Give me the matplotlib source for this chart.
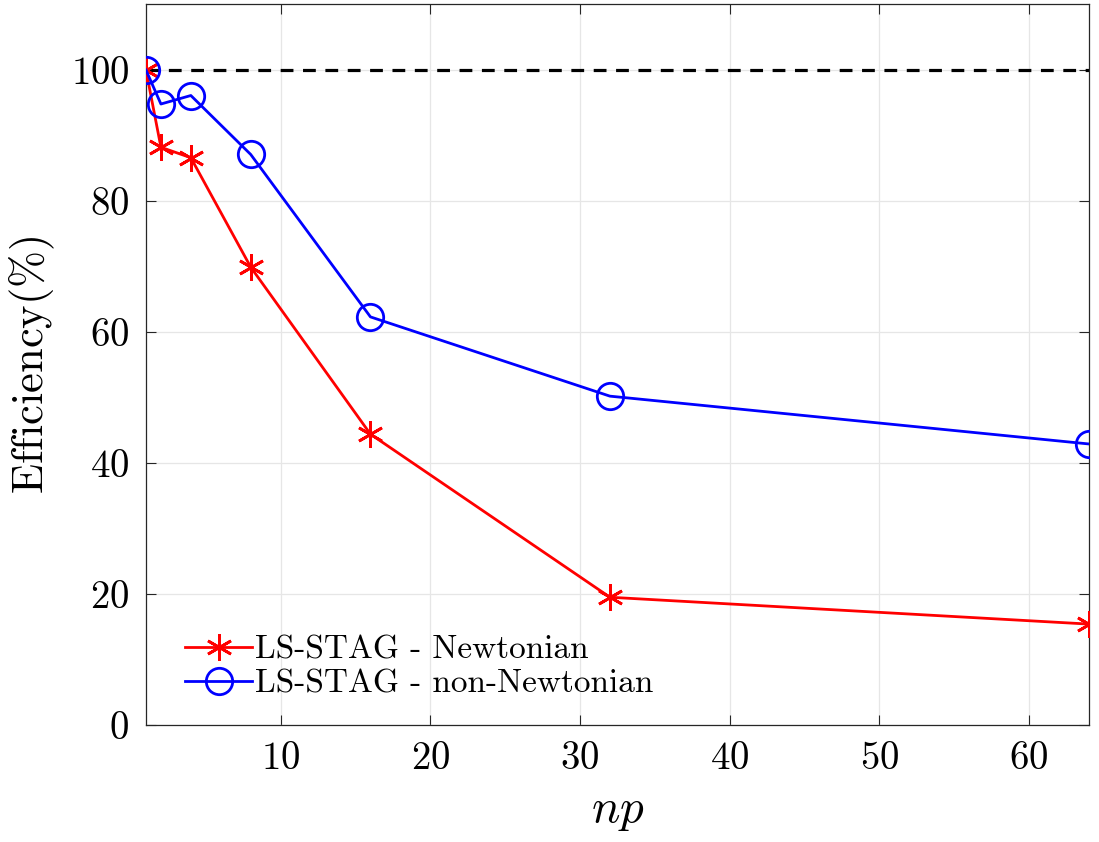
import matplotlib
matplotlib.use("Agg")
import matplotlib.pyplot as plt

np_procs = [1, 2, 4, 8, 16, 32, 64]
eff_newtonian = [100, 88.2, 86.6, 69.9, 44.4, 19.5, 15.4]
eff_non_newtonian = [100, 94.8, 96.1, 87.1, 62.3, 50.2, 42.9]
labels = ["LS-STAG - Newtonian", "LS-STAG - non-Newtonian"]
xticks = [10, 20, 30, 40, 50, 60]
yticks = [0, 20, 40, 60, 80, 100]

plt.rcParams['font.family'] = ['cmr10']
plt.rcParams['mathtext.fontset'] = 'cm'
plt.rcParams['axes.unicode_minus'] = False
plt.rcParams['axes.formatter.use_mathtext'] = True

fig = plt.figure(figsize=(10.99, 8.42), dpi=100)
ax = fig.add_axes([0.1328, 0.139, 0.858, 0.8557])

ax.axhline(100, color='black', lw=2.3, ls=(0, (4, 3)), zorder=1)
ast = (6, 2, 0)
ax.plot(np_procs, eff_newtonian, color='#ff0000', lw=2.0, marker=ast,
        markersize=19, markeredgewidth=2.0, label=labels[0], zorder=3)
ax.plot(np_procs, eff_non_newtonian, color='#0000ff', lw=2.0, marker='o',
        markersize=19, markerfacecolor='none', markeredgewidth=2.0,
        label=labels[1], zorder=3)

ax.set_xlim(1, 64)
ax.set_ylim(0, 110)
ax.set_xticks(xticks)
ax.set_yticks(yticks)
ax.grid(True, color='#e6e6e6', lw=0.9)
ax.set_axisbelow(True)
ax.tick_params(direction='in', top=True, right=True, length=7, width=0.8,
               color='#262626', labelsize=28, pad=12)
for s in ax.spines.values():
    s.set_color('#262626')
    s.set_linewidth(0.9)

ax.set_xlabel(r'$np$', fontsize=34, labelpad=10)
ax.set_ylabel(r'$\mathrm{Efficiency(\%)}$', fontsize=32, labelpad=10)

leg = ax.legend(loc='lower left', bbox_to_anchor=(0.01, -0.005), frameon=False,
                fontsize=24, handlelength=2.0, handletextpad=0.1,
                labelspacing=0.15)

fig.savefig('out.png', dpi=100)
